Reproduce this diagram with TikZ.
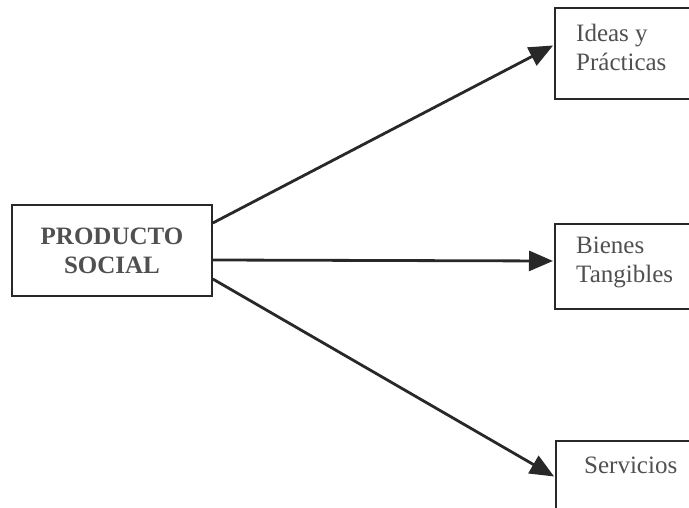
\documentclass[tikz,border=0pt]{standalone}
\usepackage{fontspec}
\setmainfont{Liberation Serif}
\usetikzlibrary{arrows.meta}
\definecolor{ink}{RGB}{40,40,40}
\definecolor{txt}{RGB}{80,80,80}
\tikzset{
  frame/.style={draw=ink, line width=1.6pt, fill=white, inner sep=0pt},
  label/.style={text=txt, font=\fontsize{25}{29}\selectfont, align=left, anchor=west, inner sep=0pt},
  link/.style={draw=ink, line width=2.8pt, -{Triangle[length=24pt, width=20pt]}, shorten >=1pt}
}
\begin{document}
\begin{tikzpicture}[x=1pt, y=-1pt]
  \useasboundingbox (0,0) rectangle (689,508);
  \clip (0,0) rectangle (689,508);
  \fill[white] (0,0) rectangle (689,508);

  % source box
  \node[frame, minimum width=200pt, minimum height=91pt, align=center,
        text=txt, font=\fontsize{25}{29}\selectfont\bfseries] (prod) at (112,250.5)
        {PRODUCTO\\SOCIAL};

  % target boxes, running past the right and bottom edges
  \node[frame, anchor=north west, minimum width=200pt, minimum height=91pt] (ideas) at (554,7) {};
  \node[frame, anchor=north west, minimum width=200pt, minimum height=85pt] (bienes) at (554,223) {};
  \node[frame, anchor=north west, minimum width=200pt, minimum height=120pt] (serv) at (555,440) {};

  \node[label] (ideasT) at (576,47) {Ideas y\\Prácticas};
  \node[label] (bienesT) at (576,262) {Bienes\\Tangibles};
  \node[label] (servT) at (584,465) {Servicios};

  % connectors
  \draw[link] (prod.east |- 0,223) -- (ideas.west |- 0,45);
  \draw[link] (prod.east |- 0,260) -- (bienes.west |- 0,261);
  \draw[link] (prod.east |- 0,279) -- (serv.west |- 0,477);
\end{tikzpicture}
\end{document}
